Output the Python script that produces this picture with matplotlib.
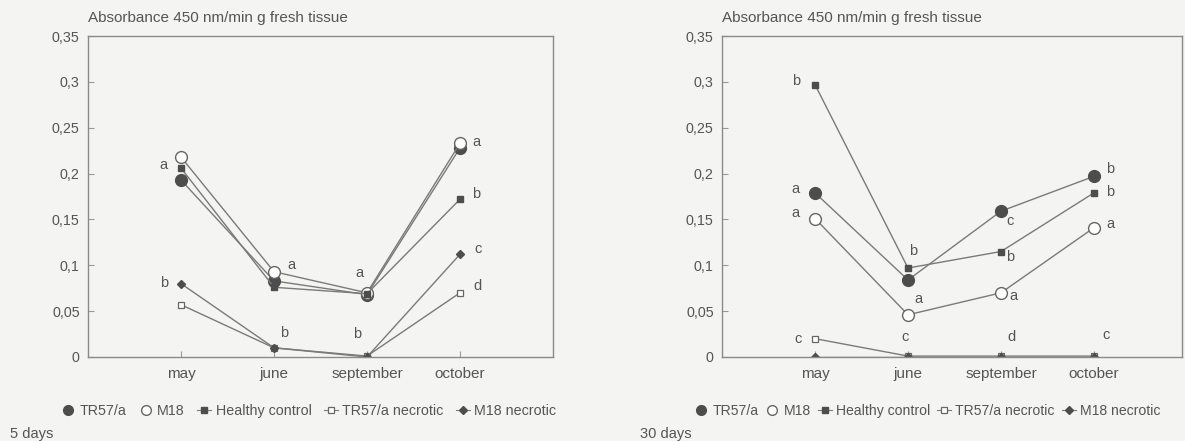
import matplotlib
matplotlib.use("Agg")
import matplotlib.pyplot as plt
from matplotlib.lines import Line2D

months = ["may", "june", "september", "october"]
y_ticks = [0, 0.05, 0.1, 0.15, 0.2, 0.25, 0.3, 0.35]
y_tick_labels = ["0", "0,05", "0,1", "0,15", "0,2", "0,25", "0,3", "0,35"]
series_names = ["TR57/a", "M18", "Healthy control", "TR57/a necrotic", "M18 necrotic"]

# 5 days
tr57_5 = [0.193, 0.083, 0.068, 0.228]
m18_5 = [0.218, 0.093, 0.070, 0.233]
healthy_5 = [0.206, 0.076, 0.069, 0.172]
tr57nec_5 = [0.057, 0.010, 0.001, 0.070]
m18nec_5 = [0.080, 0.010, 0.000, 0.112]

# 30 days
tr57_30 = [0.179, 0.084, 0.159, 0.197]
m18_30 = [0.151, 0.046, 0.070, 0.141]
healthy_30 = [0.297, 0.097, 0.115, 0.179]
tr57nec_30 = [0.020, 0.001, 0.001, 0.001]
m18nec_30 = [0.000, 0.000, 0.000, 0.000]

# significance letters: (series index, month index, letter)
letters_5 = [(2, 0, "a"), (4, 0, "b"), (1, 1, "a"), (3, 1, "b"), (0, 2, "a"), (3, 2, "b"),
             (1, 3, "a"), (2, 3, "b"), (4, 3, "c"), (3, 3, "d")]
letters_30 = [(2, 0, "b"), (0, 0, "a"), (1, 0, "a"), (3, 0, "c"), (2, 1, "b"), (1, 1, "a"),
              (3, 1, "c"), (0, 2, "c"), (2, 2, "b"), (1, 2, "a"), (3, 2, "d"),
              (0, 3, "b"), (2, 3, "b"), (1, 3, "a"), (3, 3, "c")]
# pixel offsets of letters (layout)
offs_5 = [(-18, 3), (-17, 1), (17, 7), (10, 15), (-8, 22), (-10, 22),
          (16, 1), (16, 5), (18, 5), (17, 7)]
offs_30 = [(-19, 4), (-20, 4), (-20, 6), (-17, 0), (5, 17), (10, 16), (-3, 19),
           (9, -10), (9, -5), (12, -3), (11, 19), (16, 7), (16, 1), (16, 4), (12, 21)]

plt.rcParams['font.family'] = ['Liberation Sans', 'DejaVu Sans']
BG = "#f4f4f2"
TXT = "#555555"
MK = "#4d4d4d"
LN = "#7a7a7a"

styles = [
    dict(marker="o", ms=8.5, mfc=MK, mec=MK),
    dict(marker="o", ms=8.5, mfc="white", mec="#666666", mew=1.0),
    dict(marker="s", ms=4.2, mfc=MK, mec=MK),
    dict(marker="s", ms=5.0, mfc="white", mec="#666666", mew=0.9),
    dict(marker="D", ms=4.5, mfc=MK, mec=MK),
]
leg_styles = [
    dict(marker="o", ms=7, mfc=MK, mec=MK),
    dict(marker="o", ms=7, mfc="white", mec="#666666", mew=1.0),
    dict(marker="s", ms=4.0, mfc=MK, mec=MK),
    dict(marker="s", ms=4.5, mfc="white", mec="#666666", mew=0.9),
    dict(marker="D", ms=4.5, mfc=MK, mec=MK),
]

W, H = 1185, 441
fig = plt.figure(figsize=(W / 100, H / 100), dpi=100, facecolor=BG)

def make_panel(rect, xmax, data, letters, offs, legend_x, leg_fs, leg_cs, footer, fx):
    ax = fig.add_axes(rect, facecolor=BG)
    x = list(range(1, len(months) + 1))
    for s, st in zip(data, styles):
        ax.plot(x, s, color=LN, lw=1.0, zorder=2, **st)
    ax.set_xlim(0, xmax)
    ax.set_ylim(0, 0.35)
    ax.set_yticks(y_ticks)
    ax.set_yticklabels(y_tick_labels)
    ax.set_xticks(x)
    ax.set_xticklabels(months)
    ax.tick_params(direction="in", length=4, width=0.8, colors="#999999",
                   labelcolor=TXT, labelsize=10.3)
    ax.tick_params(axis="x", labelsize=11)
    ax.tick_params(axis="y", pad=6)
    ax.tick_params(axis="x", pad=7)
    for sp in ax.spines.values():
        sp.set_color("#8a8a8a")
        sp.set_linewidth(1.0)
    for (si, mi, let), (dx, dy) in zip(letters, offs):
        ax.annotate(let, xy=(mi + 1, data[si][mi]), xytext=(dx, dy),
                    textcoords="offset pixels", ha="center", va="center",
                    fontsize=10.5, color=TXT)
    ax.text(0, 1.055, "Absorbance 450 nm/min g fresh tissue", transform=ax.transAxes,
            fontsize=11, color=TXT, ha="left", va="center")
    handles = [
        Line2D([], [], color=LN, lw=0, **leg_styles[0]),
        Line2D([], [], color=LN, lw=0, **leg_styles[1]),
        Line2D([], [], color=LN, lw=0.8, **leg_styles[2]),
        Line2D([], [], color=LN, lw=0.8, **leg_styles[3]),
        Line2D([], [], color=LN, lw=0.8, **leg_styles[4]),
    ]
    fig.legend(handles, series_names, loc="center left",
               bbox_to_anchor=(legend_x / W, 1 - 411 / H), ncol=5, frameon=False,
               fontsize=leg_fs, handlelength=1.0, handletextpad=0.3, columnspacing=leg_cs,
               borderpad=0, borderaxespad=0, labelcolor=TXT)
    fig.text(fx / W, 1 - 434 / H, footer, fontsize=10.5, color=TXT, ha="left", va="center")
    return ax

make_panel([88 / W, 1 - 357 / H, 465 / W, 321 / H], 5.0,
           [tr57_5, m18_5, healthy_5, tr57nec_5, m18nec_5], letters_5, offs_5,
           61, 10.3, 0.85, "5 days", 10)
make_panel([722 / W, 1 - 357 / H, 460 / W, 321 / H], 460 / 93,
           [tr57_30, m18_30, healthy_30, tr57nec_30, m18nec_30], letters_30, offs_30,
           694, 10.1, 0.5, "30 days", 640)

fig.savefig("out.png", dpi=100, facecolor=BG)
